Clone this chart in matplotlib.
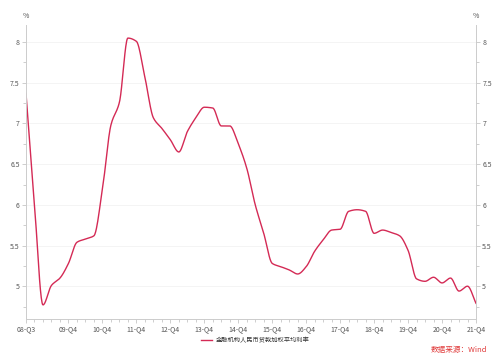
import numpy as np
import matplotlib
matplotlib.use("Agg")
from matplotlib import pyplot as plt

plt.rcParams['font.family'] = ['Noto Sans CJK SC', 'DejaVu Sans']

# 金融机构人民币贷款加权平均利率, quarterly, 2008Q3 - 2021Q4 (%)
rates = [7.37, 6.00, 4.77, 5.01, 5.10, 5.28, 5.54, 5.58, 5.62, 6.19,
         6.98, 7.26, 8.05, 8.01, 7.57, 7.07, 6.94, 6.80, 6.65, 6.90,
         7.07, 7.20, 7.19, 6.97, 6.97, 6.75, 6.45, 6.00, 5.65, 5.28,
         5.24, 5.20, 5.15, 5.24, 5.43, 5.57, 5.69, 5.70, 5.92, 5.94,
         5.92, 5.65, 5.69, 5.66, 5.62, 5.44, 5.09, 5.06, 5.11, 5.04,
         5.10, 4.94, 5.00, 4.79]
tick_labels = ["08-Q3", "09-Q4", "10-Q4", "11-Q4", "12-Q4", "13-Q4", "14-Q4",
               "15-Q4", "16-Q4", "17-Q4", "18-Q4", "19-Q4", "20-Q4", "21-Q4"]
y_ticks = [5, 5.5, 6, 6.5, 7, 7.5, 8]

series_name = "金融机构人民币贷款加权平均利率"
source_text = "数据来源：Wind"


def monotone_curve(x, y, n=20):
    # smooth line through the points (Fritsch-Carlson), like a charting lib "smooth" line
    x = np.asarray(x, dtype=float)
    y = np.asarray(y, dtype=float)
    h = np.diff(x)
    d = np.diff(y) / h
    m = np.zeros_like(y)
    m[0], m[-1] = d[0], d[-1]
    for i in range(1, len(y) - 1):
        if d[i - 1] * d[i] <= 0:
            m[i] = 0
        else:
            m[i] = 2 / (1 / d[i - 1] + 1 / d[i])
    xs, ys = [], []
    for i in range(len(h)):
        t = np.linspace(0, 1, n, endpoint=False)
        h00 = 2 * t**3 - 3 * t**2 + 1
        h10 = t**3 - 2 * t**2 + t
        h01 = -2 * t**3 + 3 * t**2
        h11 = t**3 - t**2
        xs.append(x[i] + t * h[i])
        ys.append(h00 * y[i] + h10 * h[i] * m[i] + h01 * y[i + 1] + h11 * h[i] * m[i + 1])
    xs.append([x[-1]])
    ys.append([y[-1]])
    return np.concatenate(xs), np.concatenate(ys)


q = np.arange(len(rates))
tick_pos = [0] + list(range(5, len(rates), 4))

fig = plt.figure(figsize=(5, 3.58), dpi=100)
ax = fig.add_axes([0.052, 0.109, 0.900, 0.821])

sx, sy = monotone_curve(q, rates)
line, = ax.plot(sx, sy, color='#d42a55', lw=1.0, label=series_name)

ax.set_xlim(0, len(rates) - 1)
ax.set_ylim(4.597, 8.21)
ax.set_xticks(tick_pos)
ax.set_xticklabels(tick_labels)
ax.set_xticks(q, minor=True)
ax.set_yticks(y_ticks)
ax.set_yticklabels([f"{v:g}" for v in y_ticks])
ax.set_yticks(np.arange(4.75, 8.2, 0.25), minor=True)
for v in y_ticks:
    ax.axhline(v, color='#f2f2f2', lw=0.6, zorder=0)

ax2 = ax.twinx()
ax2.set_ylim(ax.get_ylim())
ax2.set_yticks(y_ticks)
ax2.set_yticklabels([f"{v:g}" for v in y_ticks])
ax2.set_yticks(np.arange(4.75, 8.2, 0.25), minor=True)

for a in (ax, ax2):
    a.spines['top'].set_visible(False)
    for s in ('left', 'right', 'bottom'):
        a.spines[s].set_color('#cccccc')
        a.spines[s].set_linewidth(0.6)
    a.tick_params(which='both', colors='#bbbbbb', labelcolor='#555555',
                  labelsize=5, width=0.5)
    a.tick_params(which='major', length=3, pad=1.5)
    a.tick_params(which='minor', length=2)

ax.text(0.0, 1.025, "%", transform=ax.transAxes, fontsize=5, color='#555555', ha='center')
ax.text(1.0, 1.025, "%", transform=ax.transAxes, fontsize=5, color='#555555', ha='center')

fig.legend(handles=[line], loc='center', bbox_to_anchor=(0.51, 0.05), frameon=False,
           fontsize=4.5, handlelength=1.8, handletextpad=0.5, labelcolor='#333333')
fig.text(0.975, 0.022, source_text, fontsize=5.5, color='#e03a3a', ha='right', va='center')

fig.savefig("out.png", dpi=100)
